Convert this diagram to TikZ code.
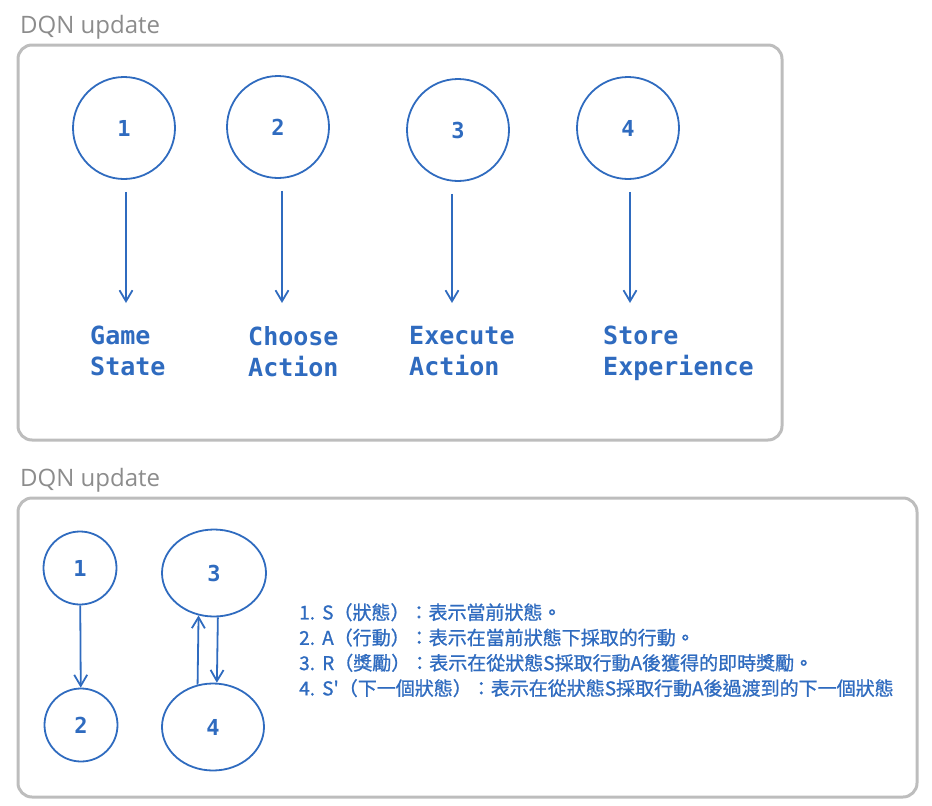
\documentclass[tikz,border=0pt]{standalone}
\usepackage{fontspec}
\setmainfont{Open Sans}
\newfontfamily\codefont{DejaVu Sans Mono}
\newfontfamily\cjkfont[FakeBold=1]{Noto Sans CJK TC}
\usetikzlibrary{arrows.meta,calc,fit,shapes.geometric}
\definecolor{sketch}{HTML}{2F6BBF}
\definecolor{framegray}{HTML}{BDBDBD}
\definecolor{titlegray}{HTML}{8C8C8C}
\tikzset{
	frame box/.style={
		draw=framegray, line width=3pt,
		rounded corners=14pt, inner sep=0pt
	},
	frame title/.style={
		text=titlegray, anchor=base west, inner sep=0pt,
		font=\fontsize{24}{28}\selectfont
	},
	step circle/.style={
		draw=sketch, line width=1.8pt, circle,
		minimum size=102pt, text=sketch,
		font=\codefont\bfseries\fontsize{22}{26}\selectfont
	},
	step oval/.style={
		draw=sketch, line width=1.8pt, ellipse,
		minimum width=102pt, minimum height=87pt, text=sketch,
		font=\codefont\bfseries\fontsize{22}{26}\selectfont
	},
	step label/.style={
		text=sketch, anchor=north west, inner sep=0pt, align=left,
		font=\codefont\bfseries\fontsize{25}{31}\selectfont
	},
	note list/.style={
		text=sketch, anchor=north west, inner sep=0pt, align=left,
		font=\cjkfont\fontsize{19}{25.3}\selectfont
	},
	flow/.style={
		draw=sketch, line width=1.8pt,
		-{Straight Barb[length=11pt,width=13pt]}
	}
}

\begin{document}
\begin{tikzpicture}[x=1pt,y=-1pt]
	\useasboundingbox (0,0) rectangle (932,806);
	
	% upper frame
	\node[frame box, fit={(18,45) (782,440)}] (F1) {};
	\node[frame title] (T1) at (20,33) {DQN update};
	
	\foreach \i/\cx/\cy/\ax/\lx/\txt in {1/124/128/126/90/{Game\\State}, 2/278/127/282/248/{Choose\\Action}, 3/458/130/452/409/{Execute\\Action}, 4/628/128/630/603/{Store\\Experience}} {
		\node[step circle] (c\i) at (\cx,\cy) {\i};
		\node[step label] (l\i) at (\lx,326) {\txt};
		\coordinate (t\i) at (\ax,303);
		\draw[flow] ($(c\i.south -| t\i)+(0,12)$) -- (t\i);
	}
	
	% lower frame
	\node[frame box, fit={(18,498) (917,797)}] (F2) {};
	\node[frame title] (T2) at (20,486) {DQN update};
	
	\node[step circle, minimum size=73pt] (b1) at (80,568) {1};
	\node[step circle, minimum size=73pt] (b2) at (81,725) {2};
	\node[step oval, minimum width=104pt] (b3) at (214,573) {3};
	\node[step oval] (b4) at (213,727) {4};
	
	\draw[flow] (b1) -- (b2);
	\draw[flow] (b4.110) -- (b3.250);
	\draw[flow] (b3.275) -- (b4.85);
	
	\node[note list] (notes) at (299,603) {%
		\makebox[23pt][l]{1.}S（狀態）：表示當前狀態。\\
		\makebox[23pt][l]{2.}A（行動）：表示在當前狀態下採取的行動。\\
		\makebox[23pt][l]{3.}R（獎勵）：表示在從狀態S採取行動A後獲得的即時獎勵。\\
		\makebox[23pt][l]{4.}S'（下一個狀態）：表示在從狀態S採取行動A後過渡到的下一個狀態
	};
\end{tikzpicture}
\end{document}
